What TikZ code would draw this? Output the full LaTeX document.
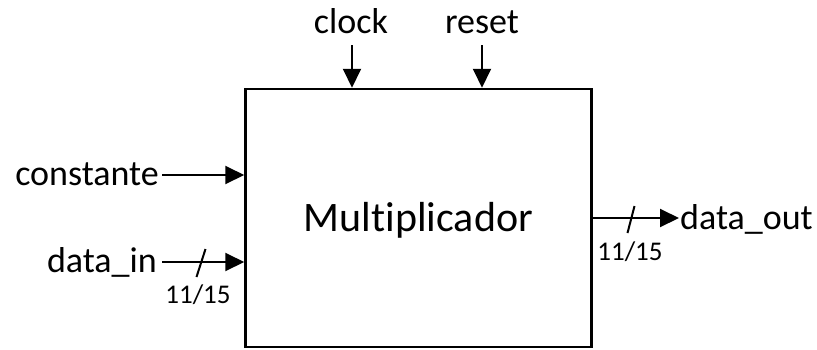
\documentclass[tikz,border=0pt]{standalone}
\usepackage{fontspec}
\setmainfont{Carlito}[Ligatures=NoCommon]
\usetikzlibrary{arrows.meta,calc}
\begin{document}
\begin{tikzpicture}[x=1pt,y=-1pt,
  sig/.style={line width=2pt,-{Triangle[length=19pt,width=18pt]}},
  lbl/.style={inner sep=0pt,font=\fontsize{36}{40}\selectfont},
  bus/.style={inner sep=0pt,font=\fontsize{27}{30}\selectfont},
  slash/.style={line width=2pt}]
\useasboundingbox (0,0) rectangle (817,349);
\node[draw,line width=2.5pt,minimum width=346pt,minimum height=258pt,inner sep=0pt] (mult) at (418.5,218) {};
\node[inner sep=0pt,anchor=base,font=\fontsize{42}{46}\selectfont] (mtxt) at (418.5,231) {Multiplicador};
% top inputs
\node[lbl,anchor=base] (clock) at (351,33) {clock};
\node[lbl,anchor=base] (reset) at (482,33) {reset};
\coordinate (clks) at (352,45);
\coordinate (rsts) at (482,45);
\draw[sig] (clks) -- (clks |- mult.north);
\draw[sig] (rsts) -- (rsts |- mult.north);
% left inputs
\node[lbl,anchor=base east] (const) at (159,185) {constante};
\node[lbl,anchor=base east] (din) at (157,272) {data\_in};
\coordinate (consts) at (162,175);
\coordinate (dins) at (162,262);
\draw[sig] (consts) -- (consts -| mult.west);
\draw[sig] (dins) -- (dins -| mult.west);
\coordinate (dslash) at (201,262);
\draw[slash] ($(dslash)+(4.5,-13)$) -- ($(dslash)+(-4.5,15)$);
\node[bus,anchor=base] (dbus) at (198,303) {11/15};
% output
\coordinate (douts) at (592,218);
\coordinate (doute) at (679,218);
\draw[sig] (douts) -- (doute);
\node[lbl,anchor=base west] (dout) at (680,229) {data\_out};
\coordinate (oslash) at (631,218);
\draw[slash] ($(oslash)+(3.5,-12)$) -- ($(oslash)+(-3.5,15)$);
\node[bus,anchor=base] (obus) at (630,260) {11/15};
\end{tikzpicture}
\end{document}
